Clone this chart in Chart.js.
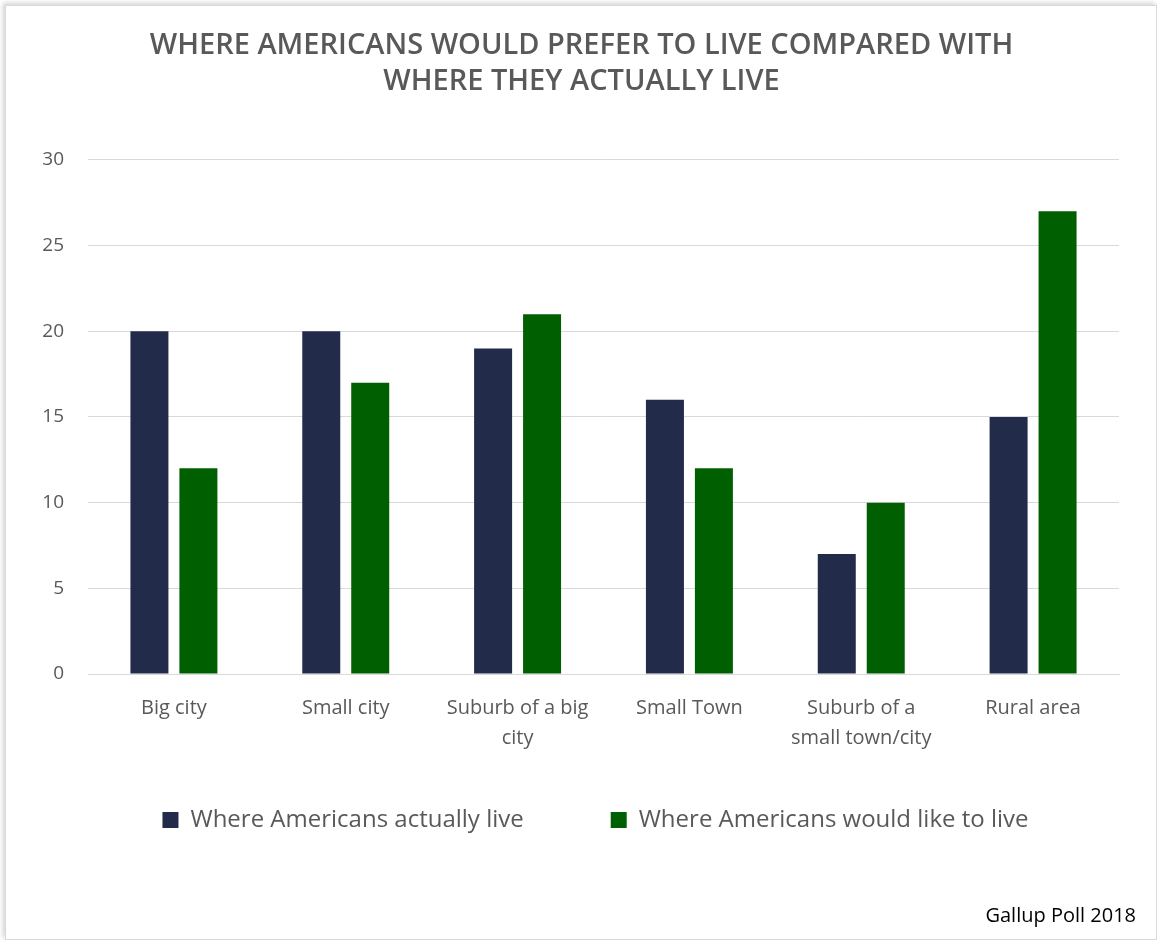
<!DOCTYPE html>
<html>
<head>
<meta charset="utf-8">
<script src="https://cdn.jsdelivr.net/npm/chart.js@4.4.0/dist/chart.umd.min.js"></script>
<style>
    html, body { margin: 0; padding: 0; background: #fff; }
    #card {
        position: absolute; left: 5px; top: 5px; width: 1150px; height: 933px;
        border: 1px solid #d9d9d9; box-shadow: -2px -2px 5px rgba(0,0,0,0.18);
        background: #fff;
    }
    #source {
        position: absolute; right: 20px; bottom: 11px;
        font-family: 'Open Sans', sans-serif; font-size: 20px; color: #000;
    }
</style>
</head>
<body>
<div id="card">
    <canvas id="placesChart" width="1150" height="933"></canvas>
    <div id="source">Gallup Poll 2018</div>
</div>
<script>
// Data
const categories = [
    'Big city',
    'Small city',
    ['Suburb of a big', 'city'],
    'Small Town',
    ['Suburb of a', 'small town/city'],
    'Rural area'
];
const actuallyLive = [20, 20, 19, 16, 7, 15];
const wouldLikeToLive = [12, 17, 21, 12, 10, 27];
const yTicks = [0, 5, 10, 15, 20, 25, 30];

const textColor = '#595959';
const fontFamily = "'Open Sans', sans-serif";

// Move legend and title a little after layout, like the Excel original
const nudgeBoxes = {
    id: 'nudgeBoxes',
    afterLayout: function(chart) {
        const lg = chart.legend;
        lg.top -= 51; lg.bottom -= 51;
        lg.left += 33; lg.right += 33;
        const t = chart.titleBlock;
        t.left += 19; t.right += 19;
    }
};

document.addEventListener('DOMContentLoaded', function() {
    const ctx = document.getElementById('placesChart').getContext('2d');

    window.placesChart = new Chart(ctx, {
        type: 'bar',
        data: {
            labels: categories,
            datasets: [
                {
                    label: 'Where Americans actually live',
                    data: actuallyLive,
                    backgroundColor: '#232B4A',
                    borderWidth: 0
                },
                {
                    label: 'Where Americans would like to live',
                    data: wouldLikeToLive,
                    backgroundColor: '#005F00',
                    borderWidth: 0
                }
            ]
        },
        plugins: [nudgeBoxes],
        options: {
            responsive: false,
            animation: false,
            categoryPercentage: 0.57,
            barPercentage: 0.776,
            layout: {
                padding: { left: 0, right: 37, top: 0, bottom: 46 }
            },
            plugins: {
                title: {
                    display: true,
                    text: ['WHERE AMERICANS WOULD PREFER TO LIVE COMPARED WITH', 'WHERE THEY ACTUALLY LIVE'],
                    color: textColor,
                    font: { family: fontFamily, size: 29, weight: '600', lineHeight: 1.24 },
                    padding: { top: 22, bottom: 60 }
                },
                legend: {
                    position: 'bottom',
                    labels: {
                        boxWidth: 16,
                        boxHeight: 16,
                        padding: 87,
                        color: textColor,
                        font: { family: fontFamily, size: 24 }
                    }
                },
                tooltip: { enabled: false }
            },
            scales: {
                x: {
                    grid: { display: false, drawTicks: false },
                    border: { display: true, color: '#d9d9d9' },
                    ticks: {
                        maxRotation: 0,
                        autoSkip: false,
                        padding: 19,
                        color: textColor,
                        font: { family: fontFamily, size: 20, lineHeight: 1.5 }
                    }
                },
                y: {
                    min: 0,
                    max: 30,
                    afterBuildTicks: function(scale) {
                        scale.ticks = yTicks.map(v => ({ value: v }));
                    },
                    grid: { color: '#d9d9d9', drawTicks: false },
                    border: { display: false },
                    ticks: {
                        padding: 24,
                        color: textColor,
                        font: { family: fontFamily, size: 19 }
                    },
                    afterFit: function(scale) {
                        scale.width = 82;
                    }
                }
            }
        }
    });
});
</script>
</body>
</html>
